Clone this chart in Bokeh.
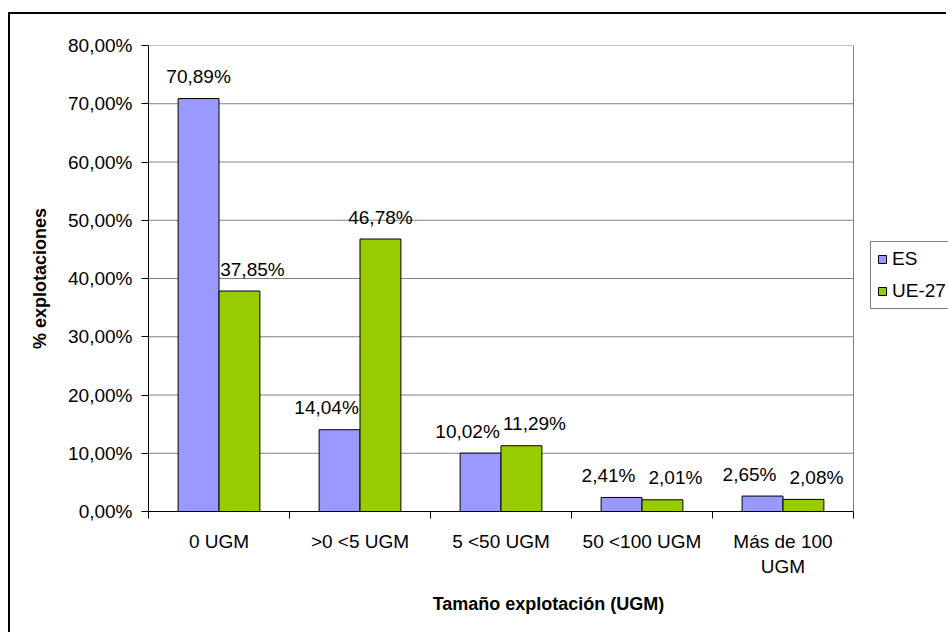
import numpy as np
from bokeh.plotting import figure
from bokeh.models import (ColumnDataSource, Range1d, FixedTicker, Legend,
                          LegendItem, Span)
from bokeh.core.properties import value
from bokeh.embed import file_html
from bokeh.resources import INLINE

# ---- data ----
categories = ["0 UGM", ">0 <5 UGM", "5 <50 UGM", "50 <100 UGM", "Más de 100\nUGM"]
es_values = [70.89, 14.04, 10.02, 2.41, 2.65]
ue_values = [37.85, 46.78, 11.29, 2.01, 2.08]
series_names = ["ES", "UE-27"]
y_ticks = [0, 10, 20, 30, 40, 50, 60, 70, 80]
x_title = "Tamaño explotación (UGM)"
y_title = "% explotaciones"

# ---- style / layout ----
FONT = "Liberation Sans"
ES_COLOR = "#9999FF"
UE_COLOR = "#99CC00"
GRID = "#808080"
W, H = 938, 620
LEFT, TOP, BOTTOM = 138, 31, 123
PLOT_PX = 705                      # width of the plotting area in px
FRAME_PX = W - LEFT                # frame runs to the right edge (legend lives there)
BAR_W = 0.29
LABEL_SHIFT = 13


def fmt(v):
    return f"{v:.2f}%".replace(".", ",")


n = len(categories)
centers = np.arange(n) + 0.5

p = figure(width=W, height=H, output_backend="svg", toolbar_location=None,
           x_range=Range1d(0, n * FRAME_PX / PLOT_PX),
           y_range=Range1d(y_ticks[0], y_ticks[-1]),
           min_border_left=LEFT, min_border_right=0, min_border_top=TOP,
           min_border_bottom=BOTTOM, background_fill_color="white",
           border_fill_color="white", margin=(12, 0, 0, 8),
           styles={"border-left": "2px solid black",
                   "border-top": "2px solid black"})
p.outline_line_color = None
p.grid.visible = False

# horizontal gridlines limited to the plotting area
p.segment(x0=[0] * len(y_ticks), x1=[n] * len(y_ticks), y0=y_ticks, y1=y_ticks,
          line_color=GRID, line_width=1)
p.add_layout(Span(location=n, dimension="height", line_color=GRID, line_width=1))

r_es = p.vbar(x=centers - BAR_W / 2, top=es_values, width=BAR_W,
              fill_color=ES_COLOR, line_color="black", line_width=1)
r_ue = p.vbar(x=centers + BAR_W / 2, top=ue_values, width=BAR_W,
              fill_color=UE_COLOR, line_color="black", line_width=1)

# data labels (shifted outward when they would collide)
px_per_unit = 466 / (y_ticks[-1] - y_ticks[0])
lab_x, lab_y, lab_t, lab_off = [], [], [], []
for i in range(n):
    e, u = es_values[i], ue_values[i]
    close = abs(e - u) * px_per_unit < 40
    e_off = -LABEL_SHIFT if (close or e < u) else 0
    u_off = LABEL_SHIFT if (close or u < e) else 0
    lab_x += [centers[i] - BAR_W / 2, centers[i] + BAR_W / 2]
    lab_y += [e, u]
    lab_t += [fmt(e), fmt(u)]
    lab_off += [e_off, u_off]

src = ColumnDataSource(dict(x=lab_x, y=lab_y, t=lab_t, off=lab_off))
p.text(x="x", y="y", text="t", x_offset="off", y_offset=-22, source=src,
       text_align="center", text_baseline="alphabetic",
       text_font=value(FONT), text_font_size="19px", text_color="black")

# axes
p.xaxis.bounds = (0, n)
p.xaxis.ticker = FixedTicker(ticks=list(centers), minor_ticks=list(range(n + 1)))
p.xaxis.major_label_overrides = {float(c): lab for c, lab in zip(centers, categories)}
p.xaxis.major_tick_out = 0
p.xaxis.major_tick_in = 0
p.xaxis.minor_tick_out = 7
p.xaxis.minor_tick_in = 0
p.xaxis.minor_tick_line_color = "black"
p.xaxis.major_label_standoff = 12
p.xaxis.axis_label = x_title
p.xaxis.axis_label_standoff = 14

p.yaxis.ticker = FixedTicker(ticks=y_ticks, minor_ticks=[])
p.yaxis.major_label_overrides = {t: fmt(t) for t in y_ticks}
p.yaxis.major_tick_out = 7
p.yaxis.major_tick_in = 0
p.yaxis.major_label_standoff = 9
p.yaxis.axis_label = y_title
p.yaxis.axis_label_standoff = 15

for ax in (p.xaxis, p.yaxis):
    ax.axis_line_color = "black"
    ax.major_tick_line_color = "black"
    ax.major_label_text_font = FONT
    ax.major_label_text_font_size = "19px"
    ax.major_label_text_color = "black"
    ax.axis_label_text_font = FONT
    ax.axis_label_text_font_size = "18px"
    ax.axis_label_text_font_style = "bold"
    ax.axis_label_text_color = "black"

legend = Legend(items=[LegendItem(label=series_names[0], renderers=[r_es]),
                       LegendItem(label=series_names[1], renderers=[r_ue])],
                location=(PLOT_PX + 17, 202), orientation="vertical",
                label_text_font=FONT, label_text_font_size="19px",
                label_text_color="black", glyph_width=10, glyph_height=10,
                label_standoff=5, spacing=10, padding=6, margin=0,
                border_line_color="black", border_line_width=1,
                background_fill_color="white", background_fill_alpha=1)
p.add_layout(legend)

open("out.html", "w").write(file_html(p, INLINE))
